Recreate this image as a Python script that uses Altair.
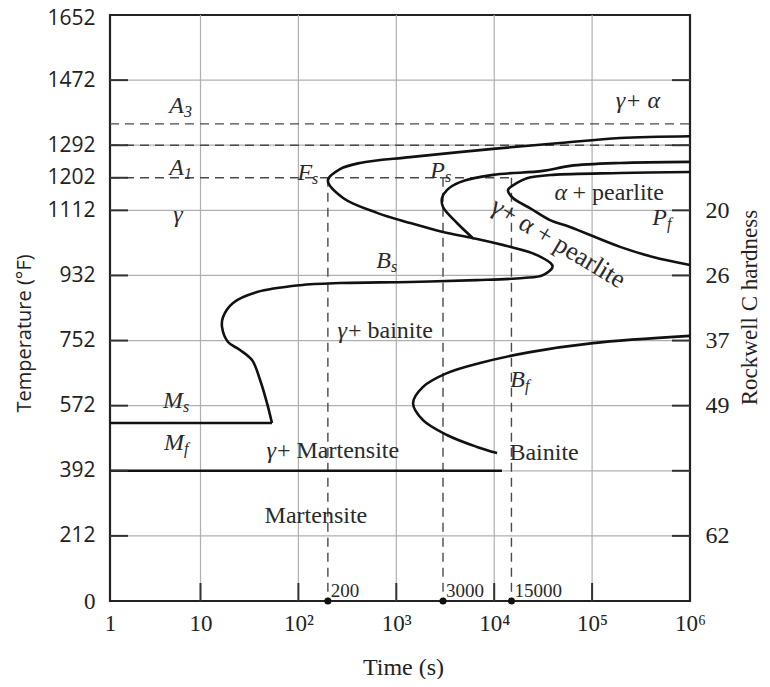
import json
import altair as alt
import pandas as pd

# ---------------- data ----------------
X_TICKS = [1, 10, 100, 1000, 10000, 100000, 1000000]
X_TICK_LABELS = ["1", "10", "10²", "10³", "10⁴", "10⁵", "10⁶"]
Y_TICKS = [32, 212, 392, 572, 752, 932, 1112, 1202, 1292, 1472, 1652]
Y_TICK_LABELS = ["0", "212", "392", "572", "752", "932", "1112", "1202", "1292", "1472", "1652"]
HARDNESS_T = [1112, 932, 752, 572, 212]
HARDNESS = ["20", "26", "37", "49", "62"]
TICKS_LEFT = [212, 392, 572, 752, 932, 1112, 1202, 1292, 1472]
TICKS_RIGHT = [212, 392, 572, 752, 932, 1112, 1292, 1472]
TICKS_BOTTOM = [10, 100, 1000, 10000, 100000]
GRID_T = [212, 392, 572, 752, 932, 1112, 1292, 1472]
GRID_TIME = [10, 100, 1000, 10000, 100000]

# ferrite start -> bainite start -> martensite start (one continuous curve)
FS_BS_TIME = [1e6, 1.93e5, 4.7e4, 9720, 1380, 426, 266, 200, 286, 635, 1380, 3000, 6070,
              14500, 27400, 39500, 31500, 19700, 6660, 1380, 266, 104, 37.8, 21.5, 17.0,
              16.6, 19.1, 25.3, 33.6, 40.6, 47.8, 53.7]
FS_BS_TEMP = [1317, 1312, 1298, 1282, 1259, 1243, 1226, 1195, 1146, 1105, 1077, 1052, 1035,
              1011, 988, 958, 933, 925, 919, 914, 911, 905, 886, 856, 817,
              789, 748, 726, 698, 643, 579, 524]
PS_TIME = [6070, 4170, 3000, 2930, 3290, 4480, 9720, 31500, 59400, 1.93e5, 1e6]
PS_TEMP = [1035, 1077, 1121, 1146, 1168, 1190, 1210, 1221, 1235, 1243, 1246]
PF_TIME = [1e6, 1.93e5, 39900, 21600, 17100, 13840, 15560, 23200, 37150, 59400, 1.93e5, 4.19e5, 1e6]
PF_TEMP = [1218, 1215, 1210, 1201, 1188, 1168, 1146, 1118, 1085, 1066, 1011, 983, 961]
BF_TIME = [1e6, 1.02e5, 23200, 7160, 3290, 1875, 1483, 1875, 3290, 6660, 10700]
BF_TEMP = [765, 745, 720, 690, 662, 624, 579, 532, 491, 458, 441]

MS_TIME = [1, 53.7]
MS_TEMP = [524, 524]
MF_TIME = [1, 12000]
MF_TEMP = [392, 392]

DASH_H_TEMP = [1351, 1292, 1202]
DASH_H_FROM = [1, 1, 1]
DASH_H_TO = [1e6, 1e6, 15000]
MARK_TIMES = [200, 3000, 15000]
MARK_LABELS = ["200", "3000", "15000"]
MARK_TOP = 1202
BOTTOM_T = 32

# subscripted symbols: base letter, subscript, anchor (time, temp)
SYM_BASE = ["A", "A", "M", "M", "F", "P", "B", "P", "B"]
SYM_SUB = ["3", "1", "s", "f", "s", "s", "s", "f", "f"]
SYM_TIME = [6.57, 6.57, 6.41, 6.57, 138, 3140, 883, 582000, 20650]
SYM_TEMP = [1381, 1210, 566, 449, 1196, 1201, 953, 1071, 624]

# phase labels
PLAIN_TEXT = ["Martensite", "Bainite"]
PLAIN_TIME = [151, 32300]
PLAIN_TEMP = [247, 422]
ITAL_TEXT = ["γ", "γ+ α"]
ITAL_TIME = [5.64, 294000]
ITAL_TEMP = [1080, 1395]
PREFIX_TEXT = ["γ", "γ", "α"]
PREFIX_TIME = [313, 59, 55500]
PREFIX_TEMP = [759, 427, 1140]
SUFFIX_TEXT = ["+ bainite", "+ Martensite", "+ pearlite"]
SUFFIX_TIME = [321, 60.4, 63000]
SUFFIX_TEMP = [759, 427, 1140]
ROT_TEXT = ["γ+ α + pearlite"]
ROT_TIME = [45000]
ROT_TEMP = [1022]

# ---------------- build tables ----------------
def curve_frame(name, times, temps):
    return pd.DataFrame({"curve": name, "order": list(range(len(times))), "t": times, "T": temps})

curves = pd.concat([
    curve_frame("Fs-Bs", FS_BS_TIME, FS_BS_TEMP),
    curve_frame("Ps", PS_TIME, PS_TEMP),
    curve_frame("Pf", PF_TIME, PF_TEMP),
    curve_frame("Bf", BF_TIME, BF_TEMP),
])
straight = pd.concat([
    curve_frame("Ms", MS_TIME, MS_TEMP),
    curve_frame("Mf", MF_TIME, MF_TEMP),
])
dash_h = pd.DataFrame({"T": DASH_H_TEMP, "t": DASH_H_FROM, "t2": DASH_H_TO})
dash_v = pd.DataFrame({"t": MARK_TIMES, "T": [MARK_TOP] * 3, "T2": [BOTTOM_T] * 3, "lab": MARK_LABELS})
dots = pd.DataFrame({"t": MARK_TIMES, "T": [BOTTOM_T] * 3, "lab": MARK_LABELS})
sym = pd.DataFrame({"base": SYM_BASE, "sub": SYM_SUB, "t": SYM_TIME, "T": SYM_TEMP})
plain = pd.DataFrame({"txt": PLAIN_TEXT, "t": PLAIN_TIME, "T": PLAIN_TEMP})
ital = pd.DataFrame({"txt": ITAL_TEXT, "t": ITAL_TIME, "T": ITAL_TEMP})
prefix = pd.DataFrame({"txt": PREFIX_TEXT, "t": PREFIX_TIME, "T": PREFIX_TEMP})
suffix = pd.DataFrame({"txt": SUFFIX_TEXT, "t": SUFFIX_TIME, "T": SUFFIX_TEMP})
rot = pd.DataFrame({"txt": ROT_TEXT, "t": ROT_TIME, "T": ROT_TEMP})
grid_h = pd.DataFrame({"T": GRID_T})
grid_v = pd.DataFrame({"t": GRID_TIME})
tl = pd.DataFrame({"T": TICKS_LEFT})
tr = pd.DataFrame({"T": TICKS_RIGHT})
tb = pd.DataFrame({"t": TICKS_BOTTOM})

W, H = 580, 586
xscale = alt.Scale(type="log", domain=[1, 10, 1e6], range=[0, 90.5, W], nice=False)
yscale = alt.Scale(domain=[32, 1652], nice=False, zero=False)

SERIF = "Liberation Serif"
INK = "#111111"
TXT = "#2a2a2a"


def X(field="t", axis=None):
    return alt.X(field, type="quantitative", scale=xscale, axis=axis)


def Y(field="T", axis=None):
    return alt.Y(field, type="quantitative", scale=yscale, axis=axis)


def js(lst):
    return json.dumps(lst, ensure_ascii=False)


left_axis = alt.Axis(
    orient="left", values=Y_TICKS,
    labelExpr=f"{js(Y_TICK_LABELS)}[indexof({js(Y_TICKS)}, datum.value)]",
    ticks=False, domain=False, grid=False, labelOverlap=False,
    labelFont={"condition": {"test": "datum.value == 32", "value": SERIF}, "value": "Open Sans"},
    labelFontSize={"condition": {"test": "datum.value == 32", "value": 23}, "value": 21},
    labelOffset={"condition": {"test": "datum.value == 1652", "value": 3}, "value": 0},
    labelColor="#222222", labelPadding=15,
    title="Temperature (°F)", titleFont="Open Sans", titleFontSize=20, titleFontWeight="normal",
    titleColor="#222222", titleAngle=270, titleAlign="center", titleBaseline="middle",
    titleX=-86, titleY=318,
)
right_axis = alt.Axis(
    orient="right", values=HARDNESS_T,
    labelExpr=f"{js(HARDNESS)}[indexof({js(HARDNESS_T)}, datum.value)]",
    ticks=False, domain=False, grid=False, labelOverlap=False,
    labelFont=SERIF, labelFontSize=24, labelColor="#222222", labelPadding=15,
    title="Rockwell C hardness", titleFont=SERIF, titleFontSize=23, titleFontWeight="normal",
    titleColor="#222222", titleAngle=270, titleAlign="center", titleBaseline="middle",
    titleX=59, titleY=292,
)
bottom_axis = alt.Axis(
    orient="bottom", values=X_TICKS,
    labelExpr=f"{js(X_TICK_LABELS)}[indexof({js(X_TICKS)}, datum.value)]",
    ticks=False, domain=False, grid=False, labelOverlap=False, labelFlush=False,
    labelFont=SERIF, labelFontSize=23, labelColor="#222222", labelPadding=11,
    title="Time (s)", titleFont=SERIF, titleFontSize=24, titleFontWeight="normal",
    titleColor="#222222", titleX=293, titleY=66, titleBaseline="middle", titleAlign="center",
)

grid_color = "#b0b0b0"
l_grid_h = alt.Chart(grid_h).mark_rule(color=grid_color, strokeWidth=1.2).encode(y=Y())
l_grid_v = alt.Chart(grid_v).mark_rule(color=grid_color, strokeWidth=1.2).encode(x=X())

dash_style = dict(color="#4a4a4a", strokeWidth=1.4, strokeDash=[9, 6])
l_dash_h = alt.Chart(dash_h).mark_rule(**dash_style).encode(x=X(), x2=alt.X2("t2"), y=Y())
l_dash_v = alt.Chart(dash_v).mark_rule(**dash_style).encode(x=X(), y=Y(), y2=alt.Y2("T2"))

l_straight = alt.Chart(straight).mark_line(color=INK, strokeWidth=2.6).encode(
    x=X(), y=Y(), detail="curve:N", order=alt.Order("order:Q"))
l_curves = alt.Chart(curves).mark_line(color=INK, strokeWidth=2.6, interpolate="catmull-rom").encode(
    x=X(), y=Y(), detail="curve:N", order=alt.Order("order:Q"))

tick_color = "#333333"
l_tl = alt.Chart(tl).mark_rule(color=tick_color, strokeWidth=2).encode(
    y=Y(axis=left_axis), x=alt.value(0), x2=alt.value(18))
l_tr = alt.Chart(tr).mark_rule(color=tick_color, strokeWidth=2).encode(
    y=Y(axis=right_axis), x=alt.value(W - 18), x2=alt.value(W))
l_tb = alt.Chart(tb).mark_rule(color=tick_color, strokeWidth=2).encode(
    x=X(axis=bottom_axis), y=alt.value(H - 18), y2=alt.value(H))

l_dots = alt.Chart(dots).mark_circle(color=INK, size=50, opacity=1).encode(x=X(), y=Y())
l_dot_lab = alt.Chart(dots).mark_text(font=SERIF, fontSize=19, color=TXT, align="left",
                                      baseline="alphabetic", dx=3, dy=-4).encode(
    x=X(), y=Y(), text="lab:N")

l_sym_base = alt.Chart(sym).mark_text(font=SERIF, fontSize=24, fontStyle="italic", color=TXT,
                                      align="right", baseline="alphabetic").encode(
    x=X(), y=Y(), text="base:N")
l_sym_sub = alt.Chart(sym).mark_text(font=SERIF, fontSize=16, fontStyle="italic", color=TXT,
                                     align="left", baseline="alphabetic", dy=4).encode(
    x=X(), y=Y(), text="sub:N")
l_plain = alt.Chart(plain).mark_text(font=SERIF, fontSize=24, color=TXT, align="center",
                                     baseline="alphabetic").encode(x=X(), y=Y(), text="txt:N")
l_ital = alt.Chart(ital).mark_text(font=SERIF, fontSize=24, fontStyle="italic", color=TXT,
                                   align="center", baseline="alphabetic").encode(x=X(), y=Y(), text="txt:N")
l_prefix = alt.Chart(prefix).mark_text(font=SERIF, fontSize=24, fontStyle="italic", color=TXT,
                                       align="right", baseline="alphabetic").encode(x=X(), y=Y(), text="txt:N")
l_suffix = alt.Chart(suffix).mark_text(font=SERIF, fontSize=24, color=TXT,
                                       align="left", baseline="alphabetic").encode(x=X(), y=Y(), text="txt:N")
l_rot = alt.Chart(rot).mark_text(font=SERIF, fontSize=26, color=TXT, angle=31,
                                 align="center", baseline="middle").encode(x=X(), y=Y(), text="txt:N")

chart = alt.layer(
    l_grid_h, l_grid_v, l_dash_h, l_dash_v, l_straight, l_curves,
    l_tl, l_tr, l_tb, l_dots, l_dot_lab,
    l_sym_base, l_sym_sub, l_plain, l_ital, l_prefix, l_suffix, l_rot,
).resolve_axis(x="independent", y="independent").properties(
    width=W, height=H,
    padding={"left": 102, "top": 7, "right": 72, "bottom": 78},
    autosize=alt.AutoSizeParams(type="none"),
    background="white",
).configure_view(stroke="#222222", strokeWidth=2.2)

chart.save("out.html", embed_options={"renderer": "svg", "actions": False})
